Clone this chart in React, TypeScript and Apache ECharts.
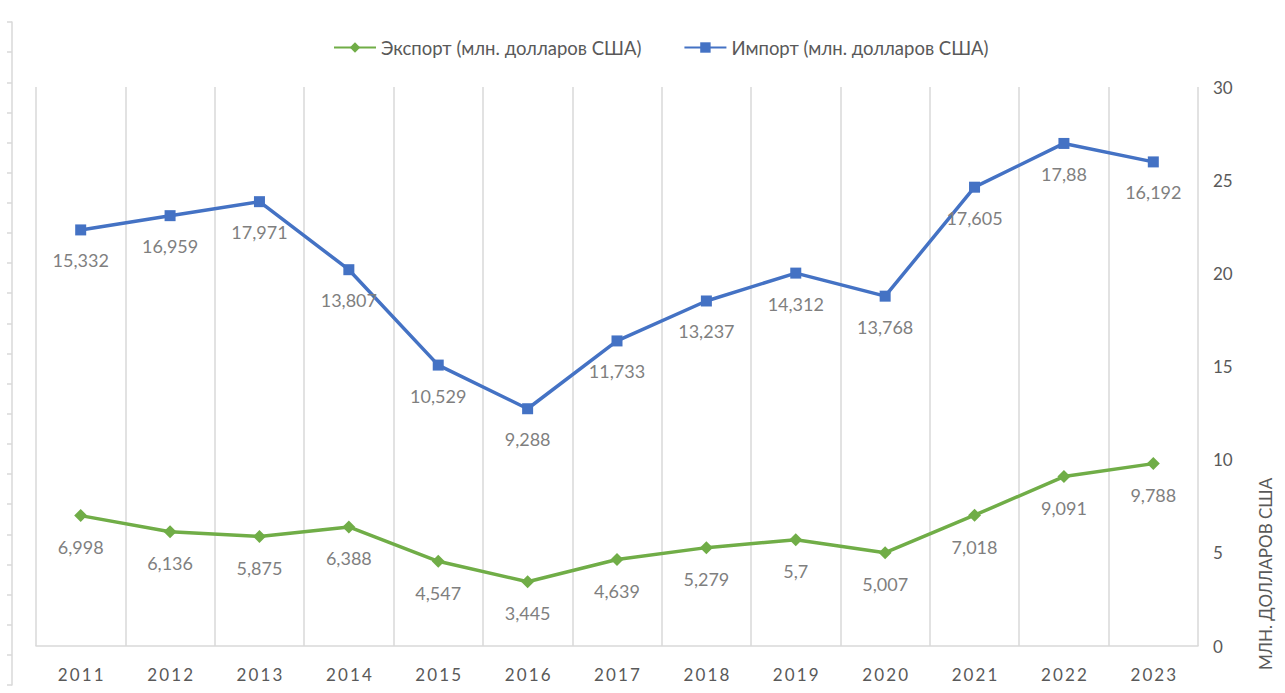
import React, { useEffect, useRef } from "react";
import * as echarts from "echarts";

const years = ["2011", "2012", "2013", "2014", "2015", "2016", "2017", "2018", "2019", "2020", "2021", "2022", "2023"];
const exportValues = [6.998, 6.136, 5.875, 6.388, 4.547, 3.445, 4.639, 5.279, 5.7, 5.007, 7.018, 9.091, 9.788];
const importValues = [15.332, 16.959, 17.971, 13.807, 10.529, 9.288, 11.733, 13.237, 14.312, 13.768, 17.605, 17.88, 16.192];
const exportName = "Экспорт (млн. долларов США)";
const importName = "Импорт (млн. долларов США)";
const axisTitle = "МЛН. ДОЛЛАРОВ США";

const FONT = "Lato, 'Noto Sans', 'Open Sans', sans-serif";
const TXT = "#595959";
const LBL = "#7f7f7f";
const GRID = "#d9d9d9";

const fmt = (v: number) => String(v).replace(".", ",");

export default function App() {
  const ref = useRef<HTMLDivElement>(null);
  useEffect(() => {
    if (!ref.current) return;
    const chart = echarts.init(ref.current, undefined, { renderer: "svg" });
    chart.setOption({
      animation: false,
      backgroundColor: "#ffffff",
      textStyle: { fontFamily: FONT },
      legend: {
        top: 33,
        left: 328,
        itemWidth: 42,
        itemHeight: 13,
        itemGap: 42,
        textStyle: { color: TXT, fontSize: 18.5, fontFamily: FONT },
        data: [exportName, importName],
      },
      grid: [
        { left: 36, right: 87, top: 87, bottom: 47, containLabel: false },
        { left: 12, width: 1, top: 22, bottom: 8, containLabel: false },
      ],
      xAxis: [
        {
          type: "category",
          data: years,
          gridIndex: 0,
          boundaryGap: true,
          axisLine: { show: true, lineStyle: { color: GRID, width: 1.5 } },
          axisTick: { show: false },
          splitLine: { show: true, interval: 0, lineStyle: { color: GRID, width: 1.5 } },
          axisLabel: {
            color: TXT,
            fontSize: 17,
            margin: 20,
            fontFamily: FONT,
            formatter: (v: string) => v.split("").join("\u2009"),
          },
        },
        { type: "value", gridIndex: 1, show: false },
      ],
      yAxis: [
        {
          type: "value",
          gridIndex: 0,
          position: "right",
          min: 0,
          max: 30,
          interval: 5,
          axisLine: { show: false },
          axisTick: { show: false },
          splitLine: { show: false },
          axisLabel: { color: TXT, fontSize: 17, margin: 15, fontFamily: FONT },
        },
        {
          type: "value",
          gridIndex: 1,
          position: "left",
          min: 0,
          max: 22,
          interval: 1,
          axisLine: { show: true, lineStyle: { color: GRID, width: 1.5 } },
          axisTick: { show: true, length: 5, lineStyle: { color: GRID, width: 1.5 } },
          axisLabel: { show: false },
          splitLine: { show: false },
        },
      ],
      graphic: [
        {
          type: "text",
          x: 1265,
          y: 574,
          rotation: Math.PI / 2,
          style: {
            text: axisTitle,
            fill: TXT,
            fontSize: 17,
            fontFamily: FONT,
            textAlign: "center",
            textVerticalAlign: "middle",
          },
        },
      ],
      series: [
        {
          name: exportName,
          type: "line",
          stack: "total",
          xAxisIndex: 0,
          yAxisIndex: 0,
          data: exportValues,
          symbol: "diamond",
          symbolSize: 13,
          lineStyle: { color: "#70ad47", width: 3.5 },
          itemStyle: { color: "#70ad47" },
          label: {
            show: true,
            position: "bottom",
            distance: 16,
            color: LBL,
            fontSize: 18,
            fontFamily: FONT,
            formatter: (p: any) => fmt(p.value),
          },
        },
        {
          name: importName,
          type: "line",
          stack: "total",
          xAxisIndex: 0,
          yAxisIndex: 0,
          data: importValues,
          symbol: "rect",
          symbolSize: 11,
          lineStyle: { color: "#4472c4", width: 3.5 },
          itemStyle: { color: "#4472c4" },
          label: {
            show: true,
            position: "bottom",
            distance: 16,
            color: LBL,
            fontSize: 18,
            fontFamily: FONT,
            formatter: (p: any) => fmt(p.value),
          },
        },
      ],
    });
    return () => chart.dispose();
  }, []);
  return (
    <div
      ref={ref}
      style={{ position: "fixed", left: 0, top: 0, width: 1285, height: 693 }}
    />
  );
}
